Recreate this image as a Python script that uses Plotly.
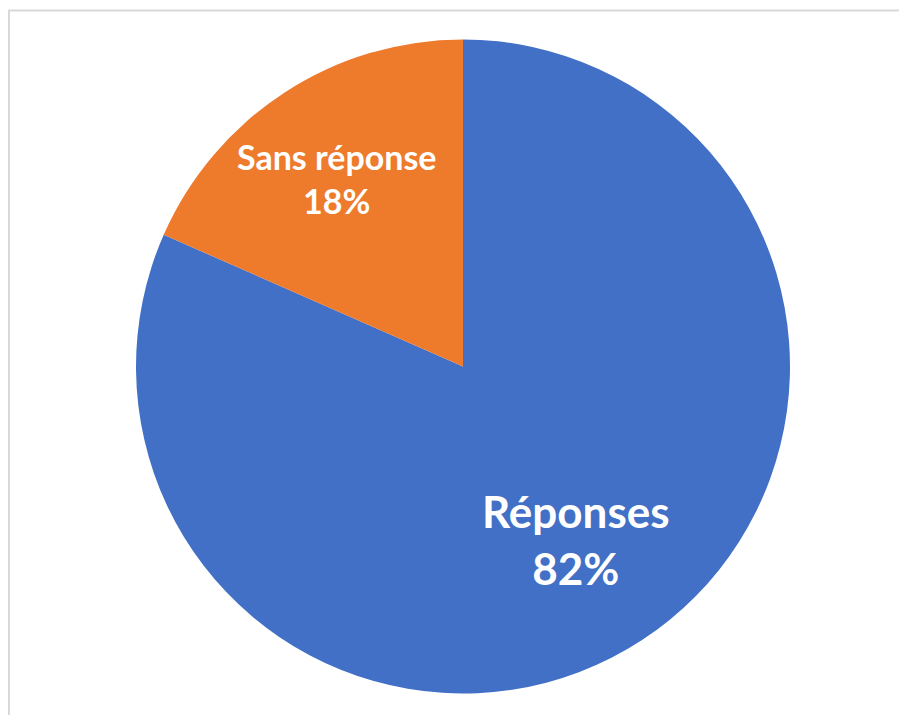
import plotly.graph_objects as go

labels = ["Réponses", "Sans réponse"]
values = [81.6, 18.4]
colors = ["#4270C6", "#EE7A2C"]

W, H = 907, 715
OX, OY = 8, 7.5  # page body offset


def px(x):
    return (x - OX) / W


def py(y):
    return 1 - (y - OY) / H


fig = go.Figure()
fig.add_trace(go.Pie(
    labels=labels,
    values=values,
    sort=False,
    direction="clockwise",
    rotation=0,
    marker=dict(colors=colors, line=dict(width=0)),
    textinfo="none",
    hoverinfo="label+percent",
    showlegend=False,
    domain=dict(x=[px(136), px(790)], y=[py(693), py(39)]),
))

total = sum(values)
pct = [f"{round(v / total * 100)}%" for v in values]

# label centres (screen px) and font sizes
label_pos = [(576, 539, 44), (337, 178, 34)]
for lab, p, (x, y, fs) in zip(labels, pct, label_pos):
    fig.add_annotation(
        x=px(x), y=py(y), xref="paper", yref="paper",
        xanchor="center", yanchor="middle",
        text=f"<b>{lab}<br>{p}</b>", showarrow=False,
        font=dict(family="Lato, Open Sans, sans-serif", size=fs, color="white"),
        align="center",
    )

# chart frame: only the left and top edges are inside the window
x0, y0, y1 = px(9), py(10), -0.2
fig.add_shape(type="path", xref="paper", yref="paper",
              path=f"M {x0},{y1} L {x0},{y0} L 1.3,{y0}",
              line=dict(color="#D9D9D9", width=2), layer="below")

fig.update_layout(
    width=W, height=H,
    margin=dict(l=0, r=0, t=0, b=0),
    paper_bgcolor="white",
    plot_bgcolor="white",
)

fig.write_html("out.html")
